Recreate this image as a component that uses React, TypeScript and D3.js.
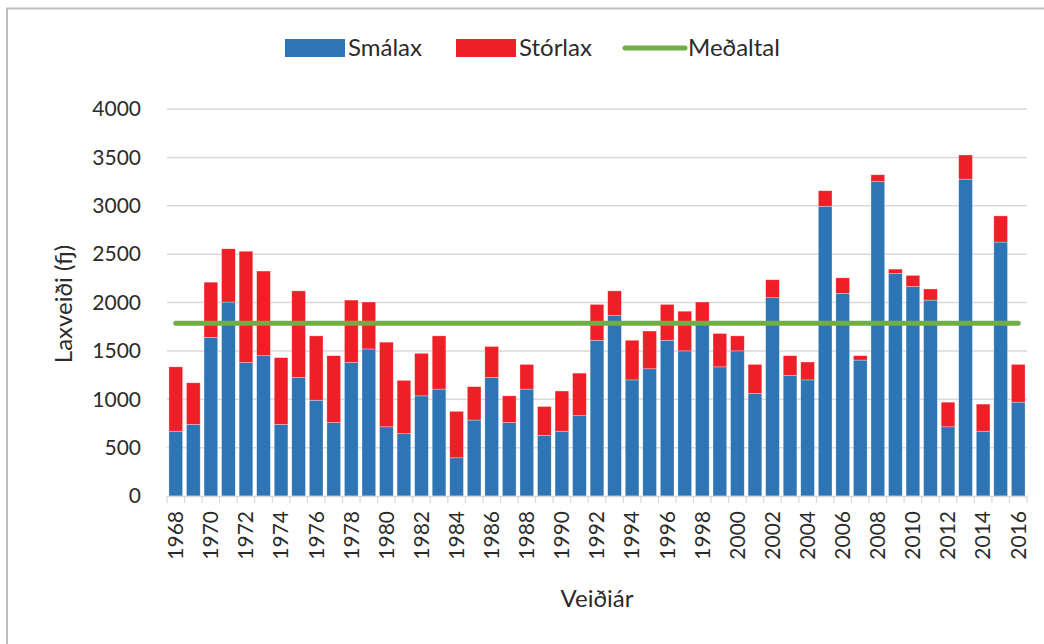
import { useEffect, useRef } from "react";
import * as d3 from "d3";

const years = d3.range(1968, 2017).map(String);
const smalax = [670, 740, 1640, 2005, 1380, 1450, 740, 1225, 990, 760, 1380, 1520, 715, 645, 1035, 1105, 395, 785, 1225, 760, 1105, 625, 670, 830, 1610, 1865, 1200, 1315, 1610, 1500, 1790, 1335, 1500, 1060, 2050, 1245, 1200, 2995, 2095, 1405, 3250, 2300, 2165, 2025, 715, 3275, 670, 2625, 970];
const storlax = [665, 430, 570, 550, 1150, 875, 690, 895, 665, 690, 645, 485, 875, 550, 440, 550, 480, 345, 320, 275, 255, 300, 415, 440, 370, 255, 410, 390, 370, 410, 215, 345, 155, 300, 185, 205, 185, 160, 160, 45, 70, 45, 115, 115, 255, 250, 280, 270, 390];
const medaltal = 1785;
const yTicks = [0, 500, 1000, 1500, 2000, 2500, 3000, 3500, 4000];

const seriesNames = ["Smálax", "Stórlax", "Meðaltal"];
const colors = ["#2E75B6", "#EE1F26", "#70AD47"];

export default function App() {
  const ref = useRef<SVGSVGElement>(null);

  useEffect(() => {
    const svg = d3.select(ref.current);
    svg.selectAll("*").remove();
    const font = "Lato, 'Open Sans', sans-serif";
    const textColor = "#2b2b2b";
    const left = 167, right = 1027, top = 109, bottom = 496;

    // outer frame
    svg.append("rect").attr("x", 7).attr("y", 8.5).attr("width", 1200).attr("height", 800)
      .attr("fill", "white").attr("stroke", "#bdbdbd").attr("stroke-width", 2);

    const x = d3.scaleBand().domain(years).range([left, right]).paddingInner(0.22).paddingOuter(0.11);
    const y = d3.scaleLinear().domain([0, 4000]).range([bottom, top]);

    // gridlines
    svg.append("g").selectAll("line").data(yTicks.slice(1)).join("line")
      .attr("x1", left).attr("x2", right)
      .attr("y1", (d) => y(d)).attr("y2", (d) => y(d))
      .attr("stroke", "#d9d9d9").attr("stroke-width", 1.5);

    svg.append("g").selectAll("text").data(yTicks).join("text")
      .attr("x", 141).attr("y", (d) => y(d)).attr("dy", "0.35em")
      .attr("text-anchor", "end").attr("font-family", font).attr("font-size", 21).attr("fill", textColor)
      .text((d) => d);

    // stacked bars
    const rows = years.map((yr, i) => ({ year: yr, s: smalax[i], t: storlax[i] }));
    const stacked = d3.stack<any>().keys(["s", "t"])(rows);
    svg.append("g").selectAll("g").data(stacked).join("g")
      .attr("fill", (d, i) => colors[i])
      .selectAll("rect").data((d) => d).join("rect")
      .attr("x", (d) => x(d.data.year)!)
      .attr("width", x.bandwidth())
      .attr("y", (d) => y(d[1]))
      .attr("height", (d) => y(d[0]) - y(d[1]))
      .attr("stroke", "#ffffff").attr("stroke-opacity", 0.5).attr("stroke-width", 0.6);

    // axis line and ticks
    svg.append("line").attr("x1", left).attr("x2", right).attr("y1", bottom + 0.5).attr("y2", bottom + 0.5)
      .attr("stroke", "#d9d9d9").attr("stroke-width", 1.5);
    const step = x.step();
    svg.append("g").selectAll("line").data(d3.range(years.length + 1)).join("line")
      .attr("x1", (i) => left + i * step).attr("x2", (i) => left + i * step)
      .attr("y1", bottom).attr("y2", bottom + 7)
      .attr("stroke", "#d9d9d9").attr("stroke-width", 1.2);

    svg.append("g").selectAll("text").data(years.filter((d, i) => i % 2 === 0)).join("text")
      .attr("transform", (d) => `translate(${x(d)! + x.bandwidth() / 2},${bottom + 15}) rotate(-90)`)
      .attr("dy", "0.35em").attr("text-anchor", "end")
      .attr("font-family", font).attr("font-size", 21).attr("fill", textColor)
      .text((d) => d);

    // average line
    const line = d3.line<string>().x((d) => x(d)! + x.bandwidth() / 2).y(() => y(medaltal));
    svg.append("path").datum(years).attr("d", line).attr("fill", "none")
      .attr("stroke", colors[2]).attr("stroke-width", 5).attr("stroke-linecap", "round");

    // axis titles
    svg.append("text").attr("transform", "translate(72,304) rotate(-90)")
      .attr("text-anchor", "middle").attr("font-family", font).attr("font-size", 24).attr("fill", textColor)
      .text("Laxveiði (fj)");
    svg.append("text").attr("x", 597).attr("y", 607)
      .attr("text-anchor", "middle").attr("font-family", font).attr("font-size", 24).attr("fill", textColor)
      .text("Veiðiár");

    // legend
    const lx = [285, 456, 625];
    const lg = svg.append("g").selectAll("g").data(seriesNames).join("g")
      .attr("transform", (d, i) => `translate(${lx[i]},48)`);
    lg.filter((d, i) => i < 2).append("rect")
      .attr("x", 0).attr("y", -9).attr("width", 60).attr("height", 18).attr("fill", (d, i) => colors[i]);
    lg.filter((d, i) => i === 2).append("line")
      .attr("x1", 0).attr("x2", 60).attr("y1", 0).attr("y2", 0)
      .attr("stroke", colors[2]).attr("stroke-width", 5).attr("stroke-linecap", "round");
    lg.append("text").attr("x", 63).attr("dy", "0.35em")
      .attr("font-family", font).attr("font-size", 24).attr("fill", textColor)
      .text((d) => d);
  }, []);

  return (
    <svg ref={ref} width={1044} height={644} style={{ position: "absolute", left: 0, top: 0, background: "white" }} />
  );
}
